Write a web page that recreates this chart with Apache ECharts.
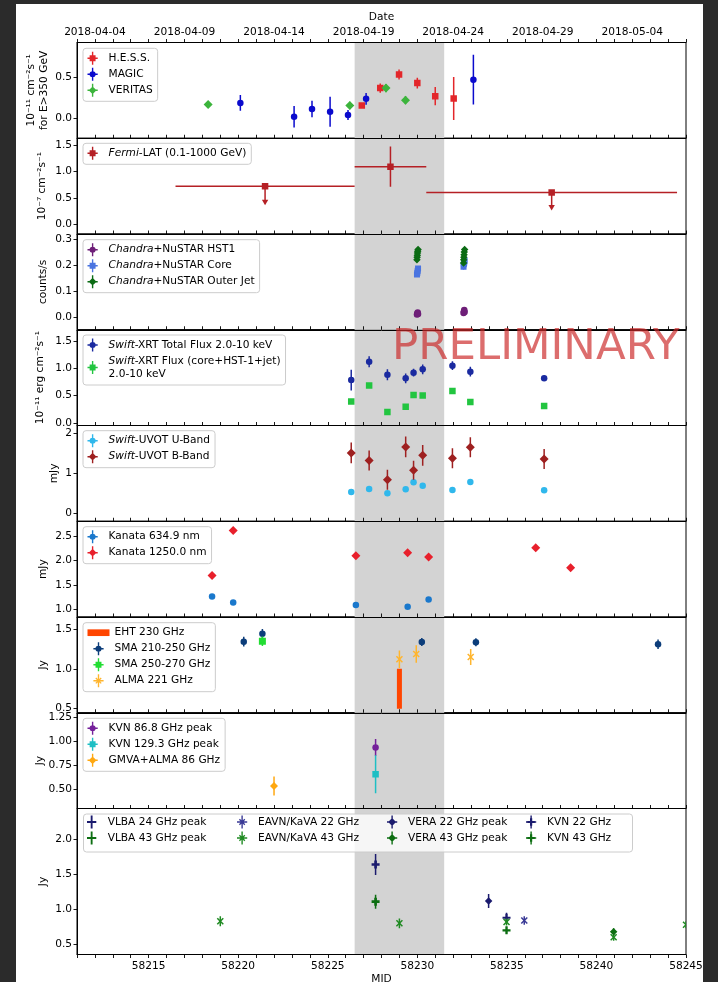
<!DOCTYPE html>
<html><head><meta charset="utf-8">
<script src="https://cdn.jsdelivr.net/npm/echarts@6/dist/echarts.min.js"></script>
<style>
html,body{margin:0;padding:0;background:#2b2b2b;}
#wrap{position:relative;width:718px;height:982px;background:#2b2b2b;overflow:hidden}
#paper{position:absolute;left:16px;top:4px;width:687px;height:978px;background:#fff}
#chart{position:absolute;left:0;top:0;width:718px;height:982px}
</style></head><body>
<div id="wrap"><div id="paper"></div><div id="chart"></div></div>
<script>
// ---------------- DATA ----------------
const xMin = 58211, xMax = 58245;
const flareBand = [58226.5, 58231.5];
const mjdLabels = [58215, 58220, 58225, 58230, 58235, 58240, 58245];
const dateLabels = [58212, 58217, 58222, 58227, 58232, 58237, 58242];

// [MJD, value, error]
const hess = [[58226.9,0.155,0.03],[58227.93,0.366,0.055],[58228.98,0.53,0.06],[58230.0,0.427,0.065],[58231.0,0.268,0.11],[58232.03,0.24,0.26]];
const magic = [[58220.12,0.187,0.095],[58223.12,0.02,0.13],[58224.12,0.114,0.1],[58225.13,0.08,0.18],[58226.13,0.04,0.06],[58227.14,0.236,0.07],[58233.13,0.468,0.3]];
const veritas = [[58218.32,0.167,0.04],[58226.23,0.155,0.045],[58228.25,0.366,0.05],[58229.34,0.22,0.05]];
// Fermi: [MJD, flux, half bin width, yerr / upper-limit arrow length, upper limit flag]
const fermi = [[58221.5,0.72,5.0,0.35,1],[58228.5,1.09,2.0,0.38,0],[58237.5,0.60,7.0,0.33,1]];

const chHst1 = [[58229.98,0.010,0.005],[58230.0,0.014,0.005],[58230.02,0.018,0.005],[58230.04,0.012,0.005],[58232.58,0.016,0.006],[58232.6,0.022,0.006],[58232.62,0.028,0.006],[58232.64,0.020,0.006]];
const chCore = [[58229.98,0.165,0.01],[58230.0,0.172,0.01],[58230.02,0.180,0.01],[58230.04,0.188,0.01],[58232.58,0.195,0.012],[58232.6,0.205,0.015],[58232.62,0.212,0.012],[58232.64,0.218,0.012]];
const chJet = [[58229.98,0.222,0.008],[58229.99,0.232,0.008],[58230.0,0.240,0.008],[58230.01,0.248,0.008],[58230.02,0.255,0.008],[58230.04,0.262,0.008],[58232.58,0.210,0.008],[58232.59,0.222,0.008],[58232.6,0.232,0.008],[58232.61,0.242,0.008],[58232.62,0.252,0.008],[58232.64,0.262,0.008]];

const xrtTotal = [[58226.31,0.784,0.19],[58227.31,1.12,0.1],[58228.33,0.88,0.1],[58229.35,0.815,0.09],[58229.79,0.92,0.07],[58230.3,0.98,0.09],[58231.96,1.047,0.08],[58232.96,0.937,0.09],[58237.08,0.815,0.05]];
const xrtCore = [[58226.31,0.392,0.04],[58227.31,0.686,0.03],[58228.33,0.20,0.03],[58229.35,0.294,0.03],[58229.79,0.51,0.03],[58230.3,0.50,0.03],[58231.96,0.582,0.04],[58232.96,0.38,0.03],[58237.08,0.307,0.03]];

const uvotU = [[58226.31,0.533,0.04],[58227.31,0.608,0.04],[58228.33,0.50,0.04],[58229.35,0.60,0.04],[58229.79,0.775,0.04],[58230.3,0.69,0.04],[58231.96,0.583,0.04],[58232.96,0.783,0.04],[58237.08,0.575,0.04]];
const uvotB = [[58226.31,1.508,0.26],[58227.31,1.317,0.25],[58228.33,0.84,0.25],[58229.35,1.658,0.26],[58229.79,1.075,0.24],[58230.3,1.45,0.26],[58231.96,1.375,0.25],[58232.96,1.65,0.25],[58237.08,1.358,0.25]];

const kanataR = [[58218.54,1.26,0.02],[58219.72,1.137,0.02],[58226.57,1.09,0.02],[58229.46,1.05,0.02],[58230.63,1.20,0.02]];
const kanataJ = [[58218.54,1.689,0.03],[58219.72,2.609,0.03],[58226.57,2.095,0.03],[58229.46,2.157,0.03],[58230.63,2.068,0.03],[58236.61,2.26,0.03],[58238.56,1.85,0.03]];

// EHT: [MJD, low, high]
const eht = [[58229.0,0.5,1.0]];
const sma1 = [[58220.31,1.341,0.06],[58221.35,1.44,0.06],[58230.25,1.337,0.05],[58233.27,1.333,0.05],[58243.44,1.308,0.06]];
const sma2 = [[58221.35,1.345,0.06]];
const alma = [[58229.0,1.119,0.11],[58229.94,1.185,0.11],[58232.98,1.148,0.1]];

const kvn86 = [[58227.67,0.935,0.09]];
const kvn129 = [[58227.67,0.654,0.2]];
const gmva = [[58222.0,0.531,0.1]];

const vlba24 = [[58234.98,0.88,0.07]];
const vlba43 = [[58234.98,0.70,0.05]];
const eavn22 = [[58235.97,0.84,0.06]];
const eavn43 = [[58219.0,0.83,0.07],[58229.0,0.80,0.07],[58234.98,0.82,0.05],[58240.96,0.60,0.05],[58245.0,0.78,0.05]];
const vera22 = [[58233.98,1.12,0.1]];
const vera43 = [[58240.96,0.68,0.05]];
const kvn22 = [[58227.67,1.64,0.15]];
const kvn43 = [[58227.67,1.11,0.1]];

// y axes
const yRanges = [[-0.24,0.917],[-0.184,1.628],[-0.049,0.322],[-0.05,1.707],[-0.2,2.195],[0.843,2.80],[0.449,1.65],[0.295,1.30],[0.355,2.44]];
const yTicks = [[0,0.5],[0,0.5,1,1.5],[0,0.1,0.2,0.3],[0,0.5,1,1.5],[0,1,2],[1,1.5,2,2.5],[0.5,1,1.5],[0.5,0.75,1,1.25],[0.5,1,1.5,2]];
const yDecimals = [1,1,1,1,0,1,1,2,1];
const yNames = ['10⁻¹¹ cm⁻²s⁻¹\nfor E>350 GeV','10⁻⁷ cm⁻²s⁻¹','counts/s','10⁻¹¹ erg cm⁻²s⁻¹','mJy','mJy','Jy','Jy','Jy'];
const yNameGaps = [27,29,28,31,17,28,28,31,28];

// ---------------- LAYOUT / STYLE ----------------
const FONT = 'DejaVu Sans', FS = 10.6;
const gridLeft = 77, gridRight = 32, top0 = 42.5, panelH = 95.75, lastH = 146;
const dayTicks = [];
for (let d = xMin; d <= xMax; d++) dayTicks.push(d);

function mjdToDate(m){ return new Date(Date.UTC(1858,10,17) + m*86400000).toISOString().slice(0,10); }

function marker(type, cx, cy, s, color){
  const h = s/2;
  if (type==='square') return {type:'rect', shape:{x:cx-h,y:cy-h,width:s,height:s}, style:{fill:color}};
  if (type==='circle') return {type:'circle', shape:{cx:cx,cy:cy,r:h}, style:{fill:color}};
  if (type==='diamond') return {type:'polygon', shape:{points:[[cx,cy-h],[cx+h,cy],[cx,cy+h],[cx-h,cy]]}, style:{fill:color}};
  if (type==='x') return {type:'group', children:[
    {type:'line',shape:{x1:cx-h,y1:cy-h,x2:cx+h,y2:cy+h},style:{stroke:color,lineWidth:1.5}},
    {type:'line',shape:{x1:cx-h,y1:cy+h,x2:cx+h,y2:cy-h},style:{stroke:color,lineWidth:1.5}}]};
  if (type==='plus') return {type:'group', children:[
    {type:'line',shape:{x1:cx-h,y1:cy,x2:cx+h,y2:cy},style:{stroke:color,lineWidth:2.2}},
    {type:'line',shape:{x1:cx,y1:cy-h,x2:cx,y2:cy+h},style:{stroke:color,lineWidth:2.2}}]};
  // filled plus 'P'
  const w = s/3/2;
  return {type:'polygon', shape:{points:[[cx-w,cy-h],[cx+w,cy-h],[cx+w,cy-w],[cx+h,cy-w],[cx+h,cy+w],[cx+w,cy+w],[cx+w,cy+h],[cx-w,cy+h],[cx-w,cy+w],[cx-h,cy+w],[cx-h,cy-w],[cx-w,cy-w]]}, style:{fill:color}};
}

const BAR = 'M6.25,0H7.75V14H6.25Z M1.5,6.25H12.5V7.75H1.5Z';
const ICON = {
  square: 'path://' + BAR + ' M3.8,3.8H10.2V10.2H3.8Z',
  circle: 'path://' + BAR + ' M10.3,7A3.3,3.3 0 1 1 3.7,7A3.3,3.3 0 1 1 10.3,7Z',
  diamond: 'path://' + BAR + ' M7,2.8L11.2,7L7,11.2L2.8,7Z',
  x: 'path://' + BAR + ' M3.6,4.6L4.6,3.6L10.4,9.4L9.4,10.4Z M9.4,3.6L10.4,4.6L4.6,10.4L3.6,9.4Z',
  plus: 'path://M6,0H8V14H6Z M2,6H12V8H2Z',
  P: 'path://' + BAR + ' M5.8,3H8.2V5.8H11V8.2H8.2V11H5.8V8.2H3V5.8H5.8Z',
  rect: 'path://M0,0H23V7H0Z'
};

// series specs: name, panel, colour, marker, size, data
const specs = [
  ['H.E.S.S.',0,'#e3262a','square',6.5,hess],
  ['MAGIC',0,'#0a0acd','circle',6.5,magic],
  ['VERITAS',0,'#3cb43c','diamond',9,veritas],
  ['Chandra+NuSTAR HST1',2,'#6e1f78','circle',6.5,chHst1],
  ['Chandra+NuSTAR Core',2,'#4a74e0','square',6,chCore],
  ['Chandra+NuSTAR Outer Jet',2,'#0b6b14','diamond',7.5,chJet],
  ['Swift-XRT Total Flux 2.0-10 keV',3,'#1a2aa0','circle',6.5,xrtTotal],
  ['Swift-XRT Flux (core+HST-1+jet)\n2.0-10 keV',3,'#22c540','square',6.5,xrtCore],
  ['Swift-UVOT U-Band',4,'#30b8ec','circle',6.5,uvotU],
  ['Swift-UVOT B-Band',4,'#9e2020','diamond',9,uvotB],
  ['Kanata 634.9 nm',5,'#1a78cc','circle',6.5,kanataR],
  ['Kanata 1250.0 nm',5,'#e8202c','diamond',9,kanataJ],
  ['SMA 210-250 GHz',6,'#0c3d7a','circle',6.5,sma1],
  ['SMA 250-270 GHz',6,'#22dd33','square',7,sma2],
  ['ALMA 221 GHz',6,'#ffb52e','x',6,alma],
  ['KVN 86.8 GHz peak',7,'#74209a','circle',6.5,kvn86],
  ['KVN 129.3 GHz peak',7,'#1ebfc4','square',6.5,kvn129],
  ['GMVA+ALMA 86 GHz',7,'#ffa811','diamond',8,gmva],
  ['VLBA 24 GHz peak',8,'#1b1b6e','plus',8,vlba24],
  ['VLBA 43 GHz peak',8,'#0d6e12','plus',8,vlba43],
  ['EAVN/KaVA 22 GHz',8,'#3a3a96','x',6,eavn22],
  ['EAVN/KaVA 43 GHz',8,'#1f8a22','x',6,eavn43],
  ['VERA 22 GHz peak',8,'#1b1b6e','diamond',7.5,vera22],
  ['VERA 43 GHz peak',8,'#0d6e12','diamond',7.5,vera43],
  ['KVN 22 GHz',8,'#1b1b6e','P',8,kvn22],
  ['KVN 43 GHz',8,'#0d6e12','P',8,kvn43]
];
const iconOf = {};
specs.forEach(s => iconOf[s[0]] = ICON[s[3]]);
iconOf['Fermi-LAT (0.1-1000 GeV)'] = ICON.square;
iconOf['EHT 230 GHz'] = ICON.rect;

const grids = [], xAxes = [], yAxes = [], series = [];
for (let i = 0; i < 9; i++) {
  const top = top0 + i*panelH, h = i < 8 ? panelH : lastH;
  grids.push({left:gridLeft, right:gridRight, top:top, height:h, show:true, borderColor:'#000', borderWidth:1, outerBoundsMode:'none'});
  xAxes.push({gridIndex:i, type:'value', min:xMin, max:xMax, z:10,
    axisLine:{show:true, onZero:false, lineStyle:{color:'#000', width:1}},
    axisTick:{show:true, customValues:dayTicks, inside:i<8, length:3.5, lineStyle:{color:'#000', width:0.9}},
    axisLabel:{show:i===8, customValues:mjdLabels, formatter:v => String(Math.round(v)), margin:6, color:'#000', fontFamily:FONT, fontSize:FS},
    splitLine:{show:false},
    name:i===8?'MJD':'', nameLocation:'middle', nameGap:19, nameTextStyle:{color:'#000', fontFamily:FONT, fontSize:FS}});
  const dec = yDecimals[i];
  yAxes.push({gridIndex:i, type:'value', min:yRanges[i][0], max:yRanges[i][1], z:10,
    axisLine:{show:true, onZero:false, lineStyle:{color:'#000', width:1}},
    axisTick:{show:true, customValues:yTicks[i], length:3.5, lineStyle:{color:'#000', width:0.9}},
    axisLabel:{customValues:yTicks[i], formatter:v => v.toFixed(dec), margin:5, color:'#000', fontFamily:FONT, fontSize:FS},
    splitLine:{show:false},
    name:yNames[i], nameLocation:'middle', nameRotate:90, nameGap:yNameGaps[i], nameMoveOverlap:false,
    nameTextStyle:{color:'#000', fontFamily:FONT, fontSize:FS, lineHeight:12.5}});
  // flare band
  series.push({type:'custom', name:'band'+i, xAxisIndex:i, yAxisIndex:i, z:1, silent:true,
    data:[[flareBand[0], flareBand[1], yRanges[i][0]]], encode:{x:[0,1], y:2},
    renderItem:(p, api) => {
      const a = api.coord([api.value(0), api.value(2)]), b = api.coord([api.value(1), api.value(2)]);
      const cs = p.coordSys;
      return {type:'rect', shape:{x:a[0], y:cs.y, width:b[0]-a[0], height:cs.height}, style:{fill:'#d3d3d3'}};
    }});
}
// top date axis
xAxes.push({gridIndex:0, type:'value', position:'top', min:xMin, max:xMax, z:10,
  axisLine:{show:true, onZero:false, lineStyle:{color:'#000', width:1}},
  axisTick:{show:true, customValues:dayTicks, inside:false, length:3.5, lineStyle:{color:'#000', width:0.9}},
  axisLabel:{customValues:dateLabels, formatter:v => mjdToDate(v), margin:5, color:'#000', fontFamily:FONT, fontSize:FS},
  splitLine:{show:false},
  name:'Date', nameLocation:'middle', nameGap:20, nameTextStyle:{color:'#000', fontFamily:FONT, fontSize:FS}});

function errSeries(name, gi, color, mk, size, data){
  return {type:'custom', name:name, xAxisIndex:gi, yAxisIndex:gi, data:data, clip:true, z:3,
    itemStyle:{color:color}, encode:{x:0, y:1},
    renderItem:(p, api) => {
      const x = api.value(0), y = api.value(1), e = api.value(2);
      const c = api.coord([x,y]), lo = api.coord([x,y-e]), hi = api.coord([x,y+e]);
      const ch = [];
      if (e > 0) ch.push({type:'line', shape:{x1:c[0],y1:lo[1],x2:c[0],y2:hi[1]}, style:{stroke:color, lineWidth:1.5}});
      ch.push(marker(mk, c[0], c[1], size, color));
      return {type:'group', children:ch};
    }};
}
specs.forEach(s => series.push(errSeries(s[0], s[1], s[2], s[3], s[4], s[5])));

// Fermi
const fermiColor = '#b52025';
series.push({type:'custom', name:'Fermi-LAT (0.1-1000 GeV)', xAxisIndex:1, yAxisIndex:1, data:fermi, clip:true, z:3,
  itemStyle:{color:fermiColor}, encode:{x:0, y:1},
  renderItem:(p, api) => {
    const x = api.value(0), y = api.value(1), xe = api.value(2), ye = api.value(3), ul = api.value(4);
    const c = api.coord([x,y]), l = api.coord([x-xe,y]), r = api.coord([x+xe,y]);
    const ch = [{type:'line', shape:{x1:l[0],y1:c[1],x2:r[0],y2:c[1]}, style:{stroke:fermiColor, lineWidth:1.5}}];
    if (ul) {
      const d = api.coord([x, y-ye]);
      ch.push({type:'line', shape:{x1:c[0],y1:c[1],x2:c[0],y2:d[1]-4}, style:{stroke:fermiColor, lineWidth:1.5}});
      ch.push({type:'polygon', shape:{points:[[c[0]-3.2,d[1]-5],[c[0]+3.2,d[1]-5],[c[0],d[1]+0.5]]}, style:{fill:fermiColor}});
    } else {
      const lo = api.coord([x,y-ye]), hi = api.coord([x,y+ye]);
      ch.push({type:'line', shape:{x1:c[0],y1:lo[1],x2:c[0],y2:hi[1]}, style:{stroke:fermiColor, lineWidth:1.5}});
    }
    ch.push(marker('square', c[0], c[1], 6.5, fermiColor));
    return {type:'group', children:ch};
  }});

// EHT bar
const ehtColor = '#ff4500';
series.push({type:'custom', name:'EHT 230 GHz', xAxisIndex:6, yAxisIndex:6, data:eht, clip:true, z:3,
  itemStyle:{color:ehtColor}, encode:{x:0, y:[1,2]},
  renderItem:(p, api) => {
    const lo = api.coord([api.value(0), api.value(1)]), hi = api.coord([api.value(0), api.value(2)]);
    return {type:'line', shape:{x1:lo[0],y1:lo[1],x2:hi[0],y2:hi[1]}, style:{stroke:ehtColor, lineWidth:5}};
  }});

// legends
const rich = {i:{fontStyle:'italic', fontFamily:FONT, fontSize:FS, color:'#000', lineHeight:13}};
function fmt(n){ return n.replace(/^(Fermi|Chandra|Swift)/, '{i|$1}'); }
function legend(names, left, top, boxed){
  return {show:true, orient:'vertical', left:left, top:top, z:6, selectedMode:false,
    data:names.map(n => ({name:n, icon:iconOf[n]})),
    itemWidth:22, itemHeight:13, itemGap:3, symbolKeepAspect:true,
    padding:boxed ? [3.5,5,4.5,4.5] : 0,
    backgroundColor:boxed ? 'rgba(255,255,255,0.8)' : 'transparent',
    borderColor:'#cccccc', borderWidth:boxed ? 1 : 0, borderRadius:3,
    formatter:fmt,
    textStyle:{fontFamily:FONT, fontSize:FS, color:'#000', lineHeight:13, rich:rich}};
}
const legends = [
  legend(['H.E.S.S.','MAGIC','VERITAS'], 83, 48.3, true),
  legend(['Fermi-LAT (0.1-1000 GeV)'], 83, 143.3, true),
  legend(['Chandra+NuSTAR HST1','Chandra+NuSTAR Core','Chandra+NuSTAR Outer Jet'], 83, 239.7, true),
  legend(['Swift-XRT Total Flux 2.0-10 keV','Swift-XRT Flux (core+HST-1+jet)\n2.0-10 keV'], 83, 335, true),
  legend(['Swift-UVOT U-Band','Swift-UVOT B-Band'], 83, 430.7, true),
  legend(['Kanata 634.9 nm','Kanata 1250.0 nm'], 83, 526.7, true),
  legend(['EHT 230 GHz','SMA 210-250 GHz','SMA 250-270 GHz','ALMA 221 GHz'], 83, 622.7, true),
  legend(['KVN 86.8 GHz peak','KVN 129.3 GHz peak','GMVA+ALMA 86 GHz'], 83, 718.3, true),
  legend(['VLBA 24 GHz peak','VLBA 43 GHz peak'], 87, 815.5, false),
  legend(['EAVN/KaVA 22 GHz','EAVN/KaVA 43 GHz'], 237, 815.5, false),
  legend(['VERA 22 GHz peak','VERA 43 GHz peak'], 387, 815.5, false),
  legend(['KVN 22 GHz','KVN 43 GHz'], 526, 815.5, false)
];

const chart = echarts.init(document.getElementById('chart'), null, {renderer:'canvas'});
chart.setOption({
  animation:false,
  backgroundColor:'transparent',
  grid:grids, xAxis:xAxes, yAxis:yAxes, legend:legends, series:series,
  graphic:[
    {type:'rect', z:5, left:83, top:813.5, shape:{width:549, height:38, r:3},
     style:{fill:'rgba(255,255,255,0.8)', stroke:'#cccccc', lineWidth:1}},
    {type:'text', z:100, left:392, top:326, silent:true,
     style:{text:'PRELIMINARY', font:'43.5px "DejaVu Sans"', fill:'rgba(204,40,40,0.68)'}}
  ]
});
</script>
</body></html>
